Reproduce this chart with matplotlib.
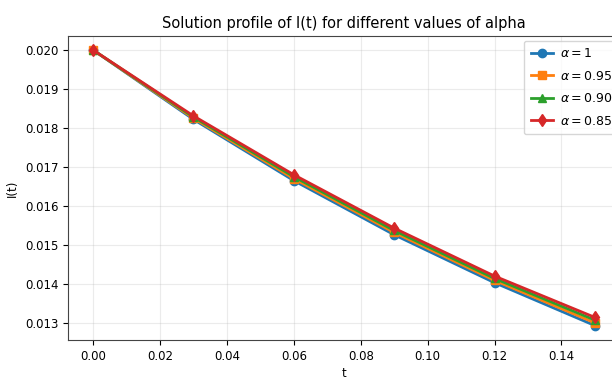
import numpy as np
import matplotlib
matplotlib.use("Agg")
import matplotlib.pyplot as plt

# time points and I(t) for each alpha
t = [0.00, 0.03, 0.06, 0.09, 0.12, 0.15]
I_a100 = [0.02000, 0.01822, 0.01665, 0.01526, 0.01403, 0.01293]
I_a095 = [0.02000, 0.01825, 0.01670, 0.01532, 0.01409, 0.01300]
I_a090 = [0.02000, 0.01828, 0.01675, 0.01537, 0.01414, 0.01307]
I_a085 = [0.02000, 0.01831, 0.01680, 0.01543, 0.01420, 0.01314]

series = [
    (I_a100, 'o', r'$\alpha = 1$'),
    (I_a095, 's', r'$\alpha = 0.95$'),
    (I_a090, '^', r'$\alpha = 0.90$'),
    (I_a085, 'd', r'$\alpha = 0.85$'),
]

plt.rcParams['font.size'] = 8.5
fig = plt.figure(figsize=(6.12, 3.79), dpi=100)
ax = fig.add_axes([68/612, 39/379, 552/612, 304/379])

for vals, mk, lab in series:
    ax.plot(t, vals, marker=mk, markersize=6, linewidth=2, label=lab)

ax.set_ylim(0.01256, 0.02036)
ax.set_title('Solution profile of I(t) for different values of alpha', fontsize=10.5)
ax.set_xlabel('t', labelpad=3)
ax.set_ylabel('I(t)')
ax.grid(True, alpha=0.25)
ax.legend(loc='upper left', bbox_to_anchor=(0.826, 0.985), borderaxespad=0,
          fontsize=9, handlelength=1.8, handletextpad=0.5, borderpad=0.55,
          labelspacing=0.75)
for s in ax.spines.values():
    s.set_color('#444444')

fig.savefig('out.png', dpi=100)
